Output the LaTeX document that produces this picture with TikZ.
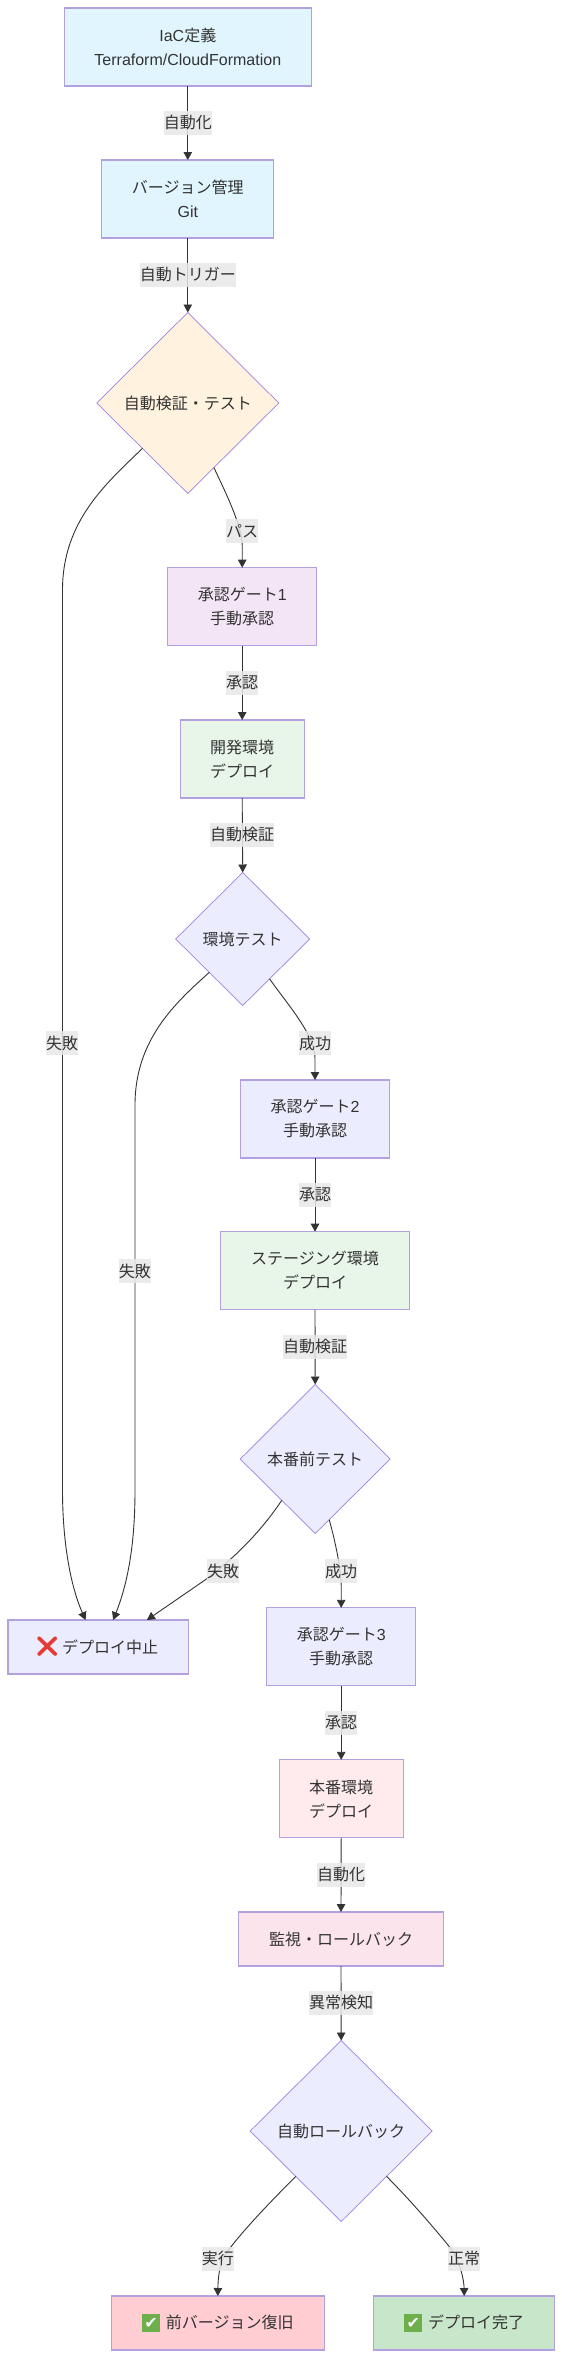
\documentclass[tikz,border=0pt]{standalone}
\usepackage{fontspec}
\setmainfont{Liberation Sans}
\newfontfamily\jpf{Noto Sans CJK JP}
\newfontfamily\emo{Noto Emoji}
\newfontfamily\djv{DejaVu Sans}
\newcommand{\jp}[1]{{\jpf #1}}
\usetikzlibrary{shapes.geometric,arrows.meta}
\definecolor{ink}{HTML}{333333}
\definecolor{edgeink}{HTML}{333333}
\definecolor{bd}{HTML}{B3A0E0}
\definecolor{dbd}{HTML}{9F80DD}
\definecolor{lab}{HTML}{E8E8E8}
\definecolor{cblue}{HTML}{E1F5FE}
\definecolor{corange}{HTML}{FFF3E0}
\definecolor{cpurple}{HTML}{F3E5F5}
\definecolor{cgreen}{HTML}{E8F5E9}
\definecolor{cdef}{HTML}{ECECFF}
\definecolor{cred}{HTML}{FFEBEE}
\definecolor{cpink}{HTML}{FCE4EC}
\definecolor{crb}{HTML}{FFCDD2}
\definecolor{cgb}{HTML}{C8E6C9}
\definecolor{xred}{HTML}{E53935}
\definecolor{okg}{HTML}{6DAF4A}
\newcommand{\okmark}{\mbox{\textcolor{okg}{\rule[-3.5pt]{18pt}{18pt}}\llap{\makebox[18pt]{\textcolor{white}{\djv\fontsize{16pt}{16pt}\selectfont ✔}}}}\hspace{6pt}}
\newcommand{\nomark}{\mbox{\makebox[18pt]{\textcolor{xred}{\emo\fontsize{20pt}{20pt}\selectfont ❌}}}\hspace{6pt}}
\tikzset{
 x=1pt,y=-1pt,
 every node/.style={font=\fontsize{16pt}{24pt}\selectfont,text=ink,align=center,inner sep=0pt,outer sep=0pt},
 boxn/.style={rectangle,draw=bd,line width=1.2pt},
 dia/.style={diamond,draw=dbd,line width=0.7pt,aspect=1},
 lbl/.style={fill=lab,fill opacity=0.85,text opacity=1,minimum height=24pt},
 conn/.style={draw=edgeink,line width=0.9pt,-{Triangle[length=8pt,width=8.5pt]}}
}
\begin{document}
\begin{tikzpicture}
\useasboundingbox (0,0) rectangle (562,2358);
\fill[white] (0,0) rectangle (562,2358);
% nodes
\node[boxn,fill=cblue,minimum width=247pt,minimum height=78pt] (A) at (187.8,47) {IaC\jp{定義}\\Terraform/CloudFormation};
\node[boxn,fill=cblue,minimum width=172pt,minimum height=78pt] (B) at (187.8,199) {\jp{バージョン管理}\\Git};
\node[dia,fill=corange,minimum width=182pt,minimum height=181pt] (C) at (187.8,403) {\jp{自動検証・テスト}};
\node[boxn,fill=cpurple,minimum width=149pt,minimum height=78pt] (D) at (242.2,606.7) {\jp{承認ゲート}1\\\jp{手動承認}};
\node[boxn,fill=cgreen,minimum width=124pt,minimum height=78pt] (E) at (242.2,759) {\jp{開発環境}\\\jp{デプロイ}};
\node[dia,fill=cdef,minimum width=134pt,minimum height=133pt] (F) at (242.7,939) {\jp{環境テスト}};
\node[boxn,fill=cdef,minimum width=149pt,minimum height=78pt] (G) at (315,1119) {\jp{承認ゲート}2\\\jp{手動承認}};
\node[boxn,fill=cgreen,minimum width=188.5pt,minimum height=78pt] (H) at (315,1270.7) {\jp{ステージング環境}\\\jp{デプロイ}};
\node[dia,fill=cdef,minimum width=150pt,minimum height=149pt] (I) at (315.2,1459) {\jp{本番前テスト}};
\node[boxn,fill=cdef,minimum width=180.5pt,minimum height=54pt] (J) at (98.2,1647) {\nomark\jp{デプロイ中止}};
\node[boxn,fill=cdef,minimum width=149pt,minimum height=78pt] (K) at (341.2,1646.8) {\jp{承認ゲート}3\\\jp{手動承認}};
\node[boxn,fill=cred,minimum width=124pt,minimum height=78pt] (L) at (341.2,1798.8) {\jp{本番環境}\\\jp{デプロイ}};
\node[boxn,fill=cpink,minimum width=204.5pt,minimum height=54pt] (M) at (341,1939) {\jp{監視・ロールバック}};
\node[dia,fill=cdef,minimum width=182pt,minimum height=181pt] (N) at (341.2,2131) {\jp{自動ロールバック}};
\node[boxn,fill=crb,minimum width=213pt,minimum height=54pt] (O) at (217.8,2323) {\okmark\jp{前バージョン復旧}};
\node[boxn,fill=cgb,minimum width=181pt,minimum height=54pt] (P) at (464.2,2323) {\okmark\jp{デプロイ完了}};
% connectors
\draw[conn] (A.south) -- (B.north);
\draw[conn] (B.south) -- (C.north);
\draw[conn] (C.225) .. controls (108,482) and (62.5,520) .. (62.5,590) -- (62.5,1490) .. controls (62.5,1540) and (70,1585) .. (J.115.7);
\draw[conn] (C.292.7) .. controls (222,485) and (242.2,525) .. (242.2,545) -- (D.north);
\draw[conn] (D.south) -- (E.north);
\draw[conn] (E.south) -- (F.north);
\draw[conn] (F.225) .. controls (175,1003) and (135,1040) .. (135,1105) -- (135,1490) .. controls (135,1540) and (129,1580) .. (J.61);
\draw[conn] (F.304.4) .. controls (288,1005) and (315,1035) .. (315,1058) -- (G.north);
\draw[conn] (G.south) -- (H.north);
\draw[conn] (H.south) -- (I.north);
\draw[conn] (I.231.4) .. controls (262,1530) and (235,1558) .. (205,1580) -- (J.29.4);
\draw[conn] (I.283.3) .. controls (335,1540) and (341.2,1570) .. (341.2,1585) -- (K.north);
\draw[conn] (K.south) -- (L.north);
\draw[conn] (L.south) -- (M.north);
\draw[conn] (M.south) -- (N.north);
\draw[conn] (N.225.6) .. controls (260,2212) and (235,2240) .. (225,2255) .. controls (219,2265) and (218,2280) .. (O.north);
\draw[conn] (N.-45) .. controls (415,2205) and (440,2235) .. (452,2250) .. controls (460,2262) and (464,2280) .. (P.north);
% edge labels
\node[lbl] (l1) at (187.8,122.8) {\jp{自動化}};
\node[lbl] (l2) at (187.8,274.8) {\jp{自動トリガー}};
\node[lbl] (l3) at (242.2,530.8) {\jp{パス}};
\node[lbl] (l4) at (242.2,682.8) {\jp{承認}};
\node[lbl] (l5) at (242.2,834.7) {\jp{自動検証}};
\node[lbl] (l6) at (62.2,1043) {\jp{失敗}};
\node[lbl] (l7) at (315,1043) {\jp{成功}};
\node[lbl] (l8) at (134.8,1271) {\jp{失敗}};
\node[lbl] (l9) at (315,1194.8) {\jp{承認}};
\node[lbl] (l10) at (315,1346.7) {\jp{自動検証}};
\node[lbl] (l11) at (223,1571) {\jp{失敗}};
\node[lbl] (l12) at (341,1571) {\jp{成功}};
\node[lbl] (l13) at (341,1723) {\jp{承認}};
\node[lbl] (l14) at (341,1874.5) {\jp{自動化}};
\node[lbl] (l15) at (341,2002.8) {\jp{異常検知}};
\node[lbl] (l16) at (217.8,2258.8) {\jp{実行}};
\node[lbl] (l17) at (464,2258.8) {\jp{正常}};
\end{tikzpicture}
\end{document}
